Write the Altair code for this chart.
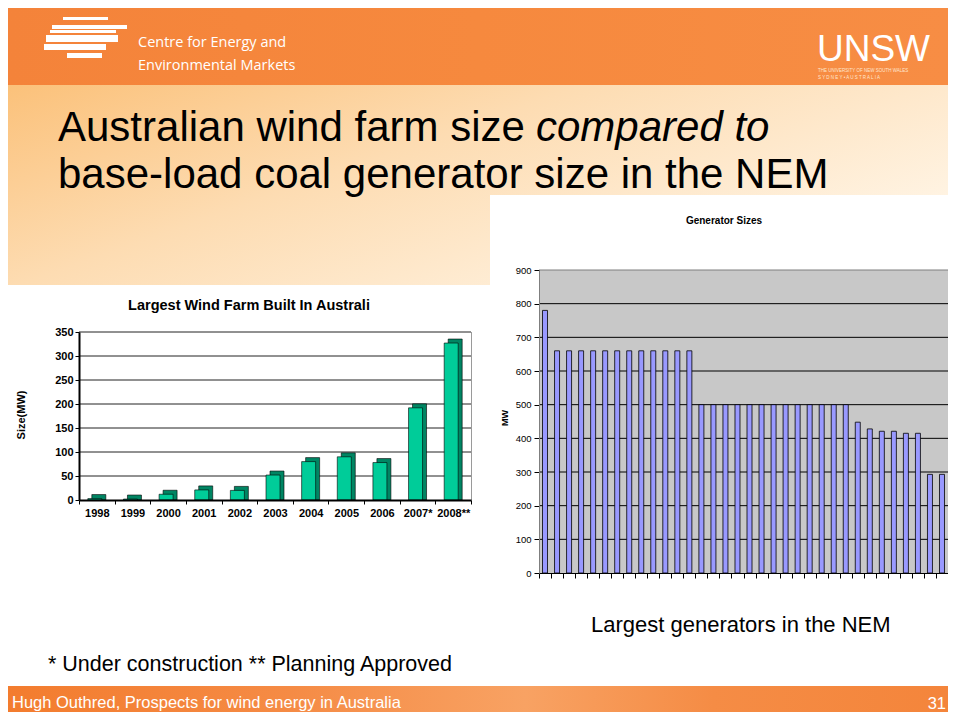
import altair as alt
import pandas as pd

# ---------------- data ----------------
years = ["1998", "1999", "2000", "2001", "2002", "2003", "2004", "2005", "2006", "2007*", "2008**"]
wind_mw = [3, 2, 12, 21, 20, 52, 80, 90, 78, 192, 327]
wind_ticks = [0, 50, 100, 150, 200, 250, 300, 350]
wind_grid = [50, 100, 150, 200, 250, 300, 350]

gen_ids = ["G01", "G02", "G03", "G04", "G05", "G06", "G07", "G08", "G09", "G10",
           "G11", "G12", "G13", "G14", "G15", "G16", "G17", "G18", "G19", "G20",
           "G21", "G22", "G23", "G24", "G25", "G26", "G27", "G28", "G29", "G30",
           "G31", "G32", "G33", "G34"]
gen_mw = [780,
          660, 660, 660, 660, 660, 660, 660, 660, 660, 660, 660, 660,
          500, 500, 500, 500, 500, 500, 500, 500, 500, 500, 500, 500, 500,
          448, 428, 421, 421, 415, 415,
          293, 293]
gen_ticks = [0, 100, 200, 300, 400, 500, 600, 700, 800, 900]
gen_grid = [100, 200, 300, 400, 500, 600, 700, 800]
gen_top = [900]

# ---------------- layout (chart pixels = page pixels - 8) ----------------
W, H = 940, 704
FONT = "Liberation Sans, Arial, sans-serif"
NARROW = "Liberation Sans Narrow, Arial Narrow, Liberation Sans, Arial, sans-serif"
LX0, LX1, LY0, LY1 = 71, 463, 492, 324      # left chart plot area
RX0, RX1, RY0, RY1 = 531, 940, 565, 262     # right chart plot area

ONE = pd.DataFrame({"a": [0]})


def box(x, x2, y, y2, **kw):
    return alt.Chart(ONE).mark_rect(**kw).encode(
        x=alt.value(x), x2=alt.value(x2), y=alt.value(y), y2=alt.value(y2))


def label(txt, x, y, **kw):
    opts = dict(align="left", baseline="alphabetic", font=FONT, color="black")
    opts.update(kw)
    return alt.Chart(ONE).mark_text(text=txt, **opts).encode(x=alt.value(x), y=alt.value(y))


def grad(stops, x2=1, y2=0):
    return alt.LinearGradient(gradient="linear", x1=0, y1=0, x2=x2, y2=y2,
                              stops=[alt.GradientStop(offset=o, color=c) for o, c in stops])


# ---------------- slide background ----------------
bg_layers = [
    box(0, W, 77, 277, color=grad([(0, "#FBC17A"), (0.45, "#FDDCB2"), (1, "#FFF4E4")], x2=1, y2=0.6)),
    box(0, W, 0, 77, color=grad([(0, "#F4833A"), (0.5, "#F6893E"), (1, "#F78D44")])),
    box(482, W, 187, 600, color="white"),
    box(0, W, 678, H, color=grad([(0, "#F37C2E"), (0.3, "#F58B45"), (0.55, "#F8A263"),
                                  (0.75, "#F58C45"), (1, "#F4853B")])),
]

# CEEM logo stripes
logo = [
    box(55, 100, 9, 12, color="white"),
    box(44, 119, 17, 21, color="white"),
    box(42, 108, 22, 25, color="white"),
    box(38, 110, 27, 34, color="white"),
    box(36, 98, 36, 42, color="white"),
    box(59, 94, 45, 50, color="white"),
]

texts = [
    label("Centre for Energy and", 130, 39, font="Open Sans, " + FONT, fontSize=14.5, color="white"),
    label("Environmental Markets", 130, 62, font="Open Sans, " + FONT, fontSize=14.5, color="white"),
    label("UNSW", 809, 53, fontSize=37, color="white"),
    label("THE UNIVERSITY OF NEW SOUTH WALES", 810, 64, fontSize=4.5, color="#FFE6D0"),
    label("S Y D N E Y   •   A U S T R A L I A", 810, 71, fontSize=4.5, color="#FFE6D0"),
    label("Australian wind farm size ", 50, 133, fontSize=42),
    label("compared to", 528, 133, fontSize=42, fontStyle="italic"),
    label("base-load coal generator size in the NEM", 50, 180, fontSize=42),
    label("Largest Wind Farm Built In Australi", 241, 302, align="center", fontSize=14.5, fontWeight="bold"),
    label("Size(MW)", 14, 407, align="center", baseline="middle", angle=270, fontSize=11, fontWeight="bold"),
    label("Generator Sizes", 716, 216, align="center", fontSize=10, fontWeight="bold", font=NARROW),
    label("MW", 497, 410, align="center", baseline="middle", angle=270, fontSize=9, fontWeight="bold"),
    label("Largest  generators in the NEM", 583, 624, fontSize=22),
    label("* Under construction ** Planning Approved", 40, 663, fontSize=21.5),
    label("Hugh Outhred, Prospects for wind energy in Australia", 4, 700, fontSize=16.5, color="white"),
    label("31", W - 2, 701, align="right", fontSize=16.5, color="white"),
]

# ---------------- left chart: largest wind farm ----------------
wind_df = pd.DataFrame({"year": years, "mw": wind_mw})
wgrid_df = pd.DataFrame({"v": wind_grid})


def yL():
    return alt.Scale(domain=[0, 350], range=[LY0, LY1])


def xL():
    return alt.Scale(domain=years, range=[LX0, LX1], paddingInner=0, paddingOuter=0)


left_grid = alt.Chart(wgrid_df).mark_rule(color="#222222", strokeWidth=1).encode(
    y=alt.Y("v:Q", scale=yL(), axis=None), x=alt.value(LX0), x2=alt.value(LX1))
left_border = box(LX1, LX1 + 1, LY1, LY0, color="#9A9A9A")
left_side = alt.Chart(wind_df).mark_bar(
    size=14, fill="#008563", stroke="black", strokeWidth=0.6,
    xOffset=2, yOffset=-4).encode(
    x=alt.X("year:N", scale=xL(), axis=None),
    y=alt.Y("mw:Q", scale=yL(), axis=None),
    y2=alt.value(LY0))
left_front = alt.Chart(wind_df).mark_bar(
    size=14, fill="#00CC99", stroke="black", strokeWidth=0.6, xOffset=-2).encode(
    x=alt.X("year:N", scale=xL(), axis=alt.Axis(
        orient="bottom", offset=LY0 - H, title=None, labelAngle=0, labelFont=FONT,
        labelFontSize=11, labelFontWeight="bold", labelColor="black", labelPadding=3,
        tickBand="extent", tickSize=4, tickColor="black", domainColor="black",
        domainWidth=2, grid=False, zindex=1)),
    y=alt.Y("mw:Q", scale=yL(), axis=alt.Axis(
        orient="left", offset=-LX0, title=None, values=wind_ticks, labelFont=FONT,
        labelFontSize=11, labelFontWeight="bold", labelColor="black", labelPadding=2,
        tickSize=4, tickColor="black", domainColor="black", domainWidth=2,
        grid=False, zindex=1)))

# ---------------- right chart: generator sizes ----------------
gen_df = pd.DataFrame({"gen": gen_ids, "mw": gen_mw})
ggrid_df = pd.DataFrame({"v": gen_grid})
gtop_df = pd.DataFrame({"v": gen_top})


def yR():
    return alt.Scale(domain=[0, 900], range=[RY0, RY1])


def xR():
    return alt.Scale(domain=gen_ids, range=[RX0, RX1], paddingInner=0, paddingOuter=0)


right_bg = box(RX0, RX1, RY1, RY0, color="#C8C8C8")
right_grid = alt.Chart(ggrid_df).mark_rule(color="black", strokeWidth=1).encode(
    y=alt.Y("v:Q", scale=yR(), axis=None), x=alt.value(RX0), x2=alt.value(RX1))
right_top = alt.Chart(gtop_df).mark_rule(color="#7F7F7F", strokeWidth=1).encode(
    y=alt.Y("v:Q", scale=yR(), axis=None), x=alt.value(RX0), x2=alt.value(RX1))
right_bars = alt.Chart(gen_df).mark_bar(
    size=5, fill="#9999FF", stroke="black", strokeWidth=0.8).encode(
    x=alt.X("gen:N", scale=xR(), axis=alt.Axis(
        orient="bottom", offset=RY0 - H, title=None, labels=False, tickBand="extent",
        tickSize=5, tickColor="black", domainColor="black", domainWidth=1,
        grid=False, zindex=1)),
    y=alt.Y("mw:Q", scale=yR(), axis=alt.Axis(
        orient="left", offset=-RX0, title=None, values=gen_ticks, labelFont=NARROW,
        labelFontSize=9.5, labelColor="black", labelPadding=3, tickSize=5,
        tickColor="black", domainColor="#7F7F7F", domainWidth=1, grid=False, zindex=1)))

chart = alt.layer(
    *bg_layers, *logo,
    left_grid, left_border, left_side, left_front,
    right_bg, right_grid, right_top, right_bars,
    *texts
).resolve_scale(x="independent", y="independent").properties(
    width=W, height=H, padding=0, autosize=alt.AutoSizeParams(type="none"),
    background="white"
).configure_view(strokeWidth=0)

chart.save("out.html", embed_options={"renderer": "svg", "actions": False})
